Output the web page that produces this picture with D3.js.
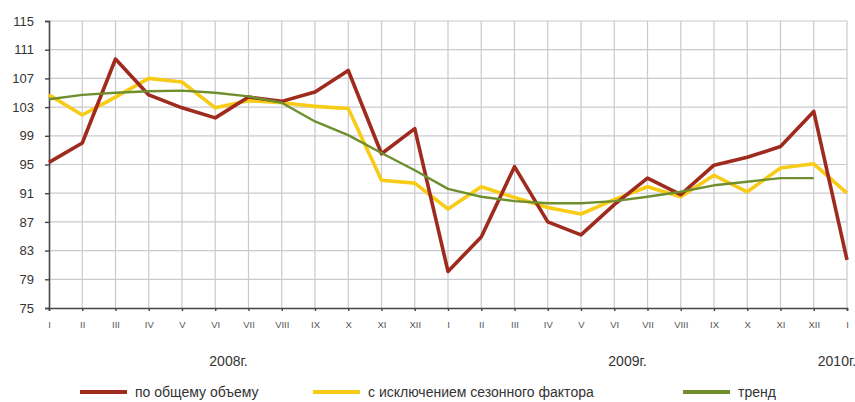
<!DOCTYPE html>
<html>
<head>
<meta charset="utf-8">
<script src="https://cdn.jsdelivr.net/npm/d3@7"></script>
<style>
  body { margin: 0; background: #fff; }
  svg { font-family: "Liberation Sans", Arial, sans-serif; }
</style>
</head>
<body>
<div id="chart"></div>
<script>
// Width and height
var w = 855;
var h = 402;
var margin = {top: 21, right: 8, bottom: 94, left: 49};

// Months I 2008 .. I 2010
var months = ["I","II","III","IV","V","VI","VII","VIII","IX","X","XI","XII",
              "I","II","III","IV","V","VI","VII","VIII","IX","X","XI","XII","I"];

// Series values
var total = [95.3, 98.0, 109.7, 104.7, 102.9, 101.5, 104.4, 103.8, 105.1, 108.1, 96.5, 100.0,
             80.1, 84.9, 94.7, 87.0, 85.2, 89.4, 93.1, 90.8, 94.9, 96.0, 97.5, 102.4, 81.7];
var seasonal = [104.7, 101.9, 104.4, 107.0, 106.5, 102.9, 103.9, 103.6, 103.1, 102.8, 92.8, 92.4,
                88.8, 91.9, 90.4, 89.0, 88.1, 90.1, 91.9, 90.5, 93.5, 91.2, 94.5, 95.1, 91.0];
var trend = [104.1, 104.7, 105.0, 105.2, 105.3, 105.0, 104.5, 103.6, 101.0, 99.1, 96.6, 94.2,
             91.6, 90.5, 89.9, 89.6, 89.6, 89.9, 90.5, 91.2, 92.1, 92.6, 93.1, 93.1];

var yTicks = [75, 79, 83, 87, 91, 95, 99, 103, 107, 111, 115];
var years = [{label: "2008г.", at: 5.4}, {label: "2009г.", at: 17.4}, {label: "2010г.", at: 23.7}];

var legendItems = [
  {name: "по общему объему", color: "#9f2a1e"},
  {name: "с исключением сезонного фактора", color: "#f7cb16"},
  {name: "тренд", color: "#6f8f2f"}
];

var x = d3.scaleLinear()
          .domain([0, months.length - 1])
          .range([margin.left, w - margin.right]);

var y = d3.scaleLinear()
          .domain([75, 115])
          .range([h - margin.bottom, margin.top]);

var svg = d3.select("#chart")
            .append("svg")
            .attr("width", w)
            .attr("height", h);

// Grid
svg.append("g")
   .selectAll("line")
   .data(yTicks.slice(1))
   .enter()
   .append("line")
   .attr("x1", x(0))
   .attr("x2", x(months.length - 1))
   .attr("y1", function(d) { return y(d); })
   .attr("y2", function(d) { return y(d); })
   .attr("stroke", "#c9c9cf")
   .attr("stroke-width", 1.2);

svg.append("g")
   .selectAll("line")
   .data(d3.range(1, months.length))
   .enter()
   .append("line")
   .attr("x1", function(d) { return x(d); })
   .attr("x2", function(d) { return x(d); })
   .attr("y1", y(75))
   .attr("y2", y(115))
   .attr("stroke", "#c9c9cf")
   .attr("stroke-width", 1.2);

// Axes
var yAxis = d3.axisLeft(y)
              .tickValues(yTicks)
              .tickSize(4)
              .tickPadding(11);

var xAxis = d3.axisBottom(x)
              .tickValues(d3.range(months.length))
              .tickFormat(function(d) { return months[d]; })
              .tickSize(3)
              .tickPadding(10);

var gy = svg.append("g")
   .attr("transform", "translate(" + margin.left + ",0)")
   .call(yAxis);

var gx = svg.append("g")
   .attr("transform", "translate(0," + y(75) + ")")
   .call(xAxis);

[gy, gx].forEach(function(g) {
  g.select(".domain").attr("stroke", "#444").attr("stroke-width", 1.6);
  g.selectAll(".tick line").attr("stroke", "#444").attr("stroke-width", 1.4);
  g.selectAll("text").attr("fill", "#333");
});
gy.selectAll("text").style("font-size", "13px");
gx.selectAll("text").style("font-size", "9.5px").attr("fill", "#555");

// Year labels
svg.append("g")
   .selectAll("text")
   .data(years)
   .enter()
   .append("text")
   .attr("x", function(d) { return x(d.at); })
   .attr("y", 366)
   .attr("text-anchor", "middle")
   .attr("fill", "#333")
   .style("font-size", "14px")
   .text(function(d) { return d.label; });

// Lines
var line = d3.line()
             .x(function(d, i) { return x(i); })
             .y(function(d) { return y(d); });

var series = [
  {values: seasonal, color: legendItems[1].color, width: 3.6},
  {values: total, color: legendItems[0].color, width: 3.6},
  {values: trend, color: legendItems[2].color, width: 2.4}
];

svg.append("g")
   .selectAll("path")
   .data(series)
   .enter()
   .append("path")
   .attr("d", function(d) { return line(d.values); })
   .attr("fill", "none")
   .attr("stroke", function(d) { return d.color; })
   .attr("stroke-width", function(d) { return d.width; })
   .attr("stroke-linejoin", "round");

// Legend
var legendX = [80, 313, 683];
var lg = svg.append("g")
   .selectAll("g")
   .data(legendItems)
   .enter()
   .append("g")
   .attr("transform", function(d, i) { return "translate(" + legendX[i] + ",392)"; });

lg.append("line")
  .attr("x1", 0)
  .attr("x2", 47)
  .attr("stroke", function(d) { return d.color; })
  .attr("stroke-width", 4);

lg.append("text")
  .attr("x", 55)
  .attr("y", 5)
  .attr("fill", "#333")
  .style("font-size", "14px")
  .text(function(d) { return d.name; });
</script>
</body>
</html>
